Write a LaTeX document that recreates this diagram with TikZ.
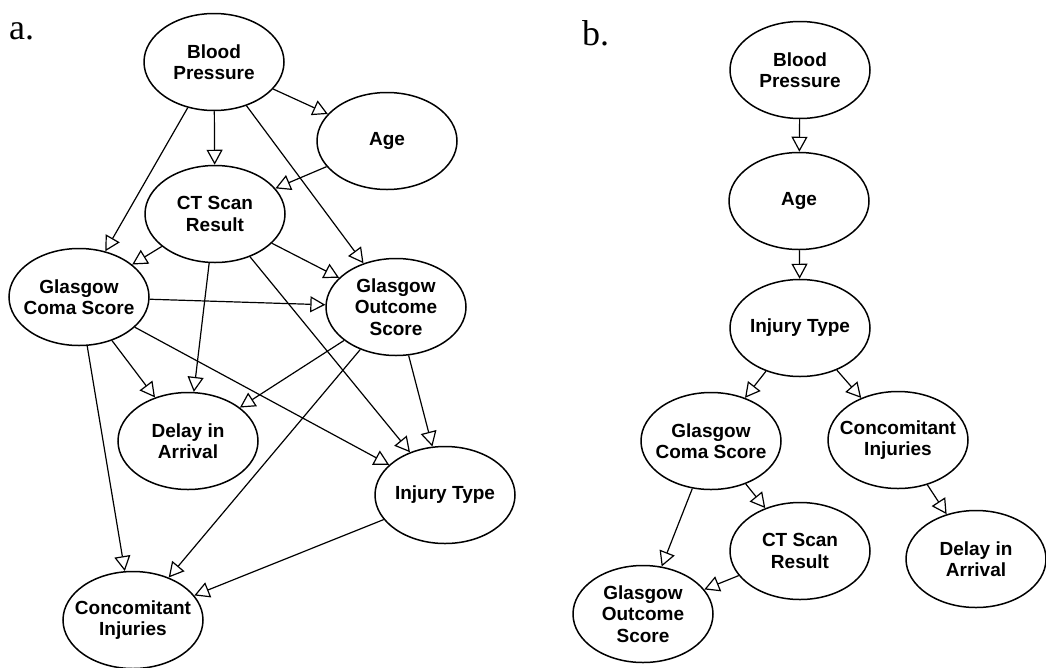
\documentclass[tikz,border=0pt]{standalone}
\usepackage{fontspec}
\setmainfont{Liberation Serif}
\setsansfont{Liberation Sans}
\usepackage{tikz}
\usetikzlibrary{shapes.geometric,arrows.meta}
\tikzstyle{nodo} = [draw, ellipse, line width=1.5pt, minimum width=140pt, minimum height=97pt, inner ysep=0pt, inner xsep=-14pt, align=center, font=\sffamily\bfseries\fontsize{19}{21.5}\selectfont]
\tikzstyle{flecha} = [-{Triangle[length=15pt,width=16pt,fill=white]}, line width=1.2pt]
\tikzstyle{panel} = [anchor=base west, inner sep=0pt, font=\rmfamily\fontsize{36}{36}\selectfont]

\begin{document}
\begin{tikzpicture}[x=1pt,y=-1pt]
	\useasboundingbox (0,0) rectangle (1046,667);
	% a.
	\node[panel] (labelA) at (9,39) {a.};
	\node[nodo] (bpA) at (214,62) {Blood\\Pressure};
	\node[nodo] (ageA) at (387,141) {Age};
	\node[nodo] (ctA) at (215,214) {CT Scan\\Result};
	\node[nodo] (gcsA) at (79,297) {Glasgow\\Coma Score};
	\node[nodo] (gosA) at (396,307) {Glasgow\\Outcome\\Score};
	\node[nodo] (delayA) at (188,441) {Delay in\\Arrival};
	\node[nodo] (injA) at (445,495) {Injury Type};
	\node[nodo] (ciA) at (133,620) {Concomitant\\Injuries};
	\draw[flecha] (bpA) -- (ageA);
	\draw[flecha] (bpA) -- (ctA);
	\draw[flecha] (bpA) -- (gcsA);
	\draw[flecha] (bpA) -- (gosA);
	\draw[flecha] (ageA) -- (ctA);
	\draw[flecha] (ctA) -- (gcsA);
	\draw[flecha] (ctA) -- (gosA);
	\draw[flecha] (ctA) -- (delayA);
	\draw[flecha] (ctA) -- (injA);
	\draw[flecha] (gcsA) -- (gosA);
	\draw[flecha] (gcsA) -- (delayA);
	\draw[flecha] (gcsA) -- (injA);
	\draw[flecha] (gcsA) -- (ciA);
	\draw[flecha] (gosA) -- (delayA);
	\draw[flecha] (gosA) -- (injA);
	\draw[flecha] (gosA) -- (ciA);
	\draw[flecha] (injA) -- (ciA);
	% b.
	\node[panel] (labelB) at (582,45) {b.};
	\node[nodo] (bpB) at (800,70) {Blood\\Pressure};
	\node[nodo] (ageB) at (799,201) {Age};
	\node[nodo] (injB) at (800,328) {Injury Type};
	\node[nodo] (gcsB) at (711,441) {Glasgow\\Coma Score};
	\node[nodo] (ciB) at (898,440) {Concomitant\\Injuries};
	\node[nodo] (ctB) at (800,551) {CT Scan\\Result};
	\node[nodo] (delayB) at (976,559) {Delay in\\Arrival};
	\node[nodo] (gosB) at (643,614) {Glasgow\\Outcome\\Score};
	\draw[flecha] (bpB) -- (ageB);
	\draw[flecha] (ageB) -- (injB);
	\draw[flecha] (injB) -- (gcsB);
	\draw[flecha] (injB) -- (ciB);
	\draw[flecha] (gcsB) -- (ctB);
	\draw[flecha] (gcsB) -- (gosB);
	\draw[flecha] (ctB) -- (gosB);
	\draw[flecha] (ciB) -- (delayB);
\end{tikzpicture}
\end{document}
